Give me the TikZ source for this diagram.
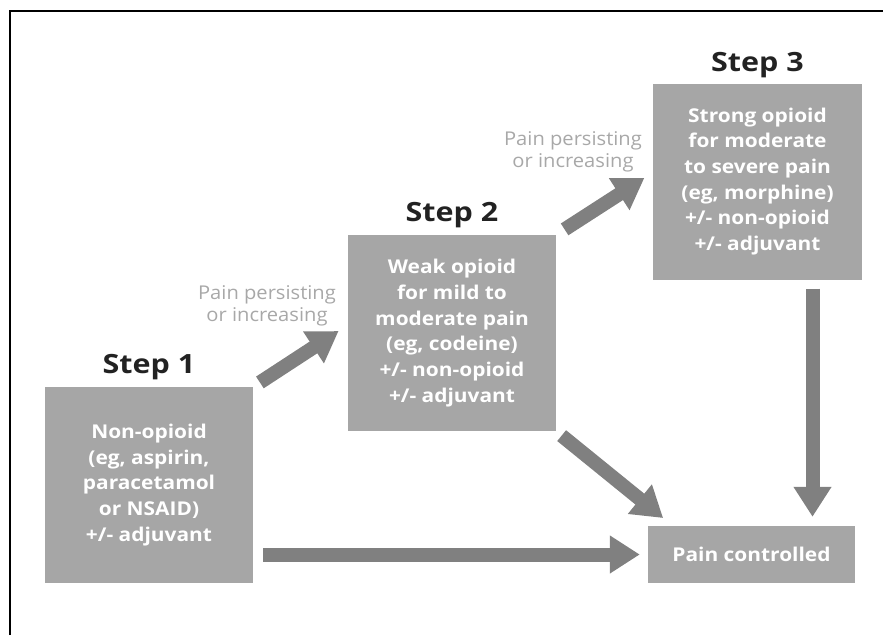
\documentclass[tikz,border=0pt]{standalone}
\usepackage{fontspec}
\setmainfont{Open Sans}
\newfontfamily\boxfont{Open Sans}[FakeStretch=1.1]
\newfontfamily\headfont{Open Sans}[FakeStretch=1.15]
\newfontfamily\notefont{Open Sans}[FakeStretch=1.06]
\usetikzlibrary{arrows.meta,calc}
\definecolor{boxgray}{HTML}{A6A6A6}
\definecolor{arrowgray}{HTML}{808080}
\definecolor{notegray}{HTML}{A8A8A8}
\definecolor{headgray}{HTML}{222222}
\begin{document}
\begin{tikzpicture}[x=1pt,y=-1pt,
    stepbox/.style={fill=boxgray,text=white,inner sep=0pt,align=center,
      minimum width=208pt,minimum height=196pt,
      font=\boxfont\fontsize{19}{25.7}\selectfont\bfseries},
    heading/.style={text=headgray,anchor=base,inner sep=0pt,
      font=\headfont\fontsize{26.5}{30}\selectfont\bfseries},
    note/.style={text=notegray,align=center,inner sep=0pt,
      font=\notefont\fontsize{19}{21.5}\selectfont},
    flow/.style={draw=arrowgray,line width=14pt,
      -{Triangle[width=36pt,length=30pt]}}]
  \useasboundingbox (0,0) rectangle (883,635);
  % frame
  \draw[line width=2pt] (10,635) -- (10,11) -- (883,11);

  % the three steps
  \node[stepbox] (s1) at (149,485) {Non-opioid\\(eg, aspirin,\\paracetamol\\or NSAID)\\+/- adjuvant};
  \node[stepbox] (s2) at (452,333) {Weak opioid\\for mild to\\moderate pain\\(eg, codeine)\\+/- non-opioid\\+/- adjuvant};
  \node[stepbox,minimum width=209pt] (s3) at (757.5,181.5) {Strong opioid\\for moderate\\to severe pain\\(eg, morphine)\\+/- non-opioid\\+/- adjuvant};
  \node[stepbox,minimum width=207pt,minimum height=57pt] (pc) at (751.5,554.5) {Pain controlled};

  \node[heading] (h1) at ([yshift=13pt]s1.north) {Step 1};
  \node[heading] (h2) at ([yshift=13pt]s2.north) {Step 2};
  \node[heading] (h3) at ([yshift=12pt]s3.north) {Step 3};

  \node[note] (n1) at (267,306) {Pain persisting\\or increasing};
  \node[note] (n2) at (573,152) {Pain persisting\\or increasing};

  % arrows
  \draw[flow,shorten <=8pt,shorten >=11pt] (s1.north east) -- ([yshift=8pt]s2.west);
  \draw[flow,shorten <=10pt,shorten >=10pt] (s2.north east) -- ([yshift=9pt]s3.west);
  \draw[flow,shorten <=7pt,shorten >=6pt] (s2.south east) -- ([xshift=20pt,yshift=4pt]pc.north west);
  \draw[flow,shorten <=9pt,shorten >=9pt] ([xshift=55pt]s3.south) -- ([xshift=55pt]s3.south |- pc.north);
  \draw[flow,shorten <=10pt,shorten >=8pt] (s1.east |- pc.west) -- (pc.west);
\end{tikzpicture}
\end{document}
